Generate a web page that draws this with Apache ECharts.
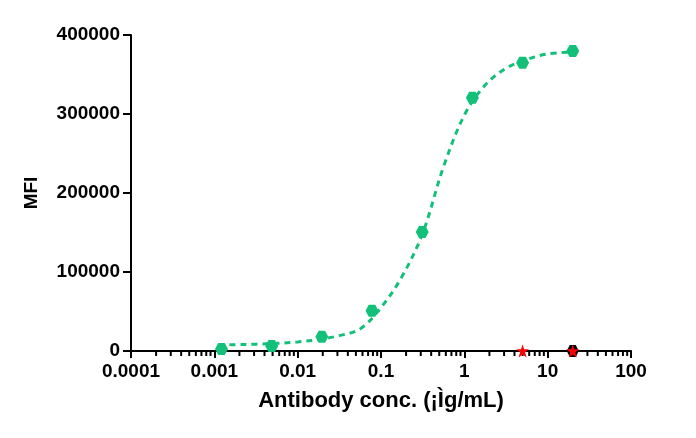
<!DOCTYPE html>
<html>
<head>
<meta charset="utf-8">
<script src="https://cdn.jsdelivr.net/npm/echarts@6/dist/echarts.min.js"></script>
<style>html,body{margin:0;padding:0;background:#fff;}#c{width:696px;height:438px;}</style>
</head>
<body>
<div id="c"></div>
<script>
// Data
var concentrations = [0.00122, 0.00488, 0.0195, 0.078, 0.3125, 1.25, 5, 20];
var mfiValues = [2500, 6300, 18000, 51000, 150600, 320500, 364800, 379700];
// fitted curve (x in ug/mL, y MFI)
var curveX = [0.00112, 0.00178, 0.00316, 0.00562, 0.01, 0.0178, 0.0316, 0.0562, 0.1, 0.178, 0.316, 0.562, 1, 1.78, 3.16, 5.62, 10, 20];
var curveY = [7500, 8000, 8700, 9700, 11500, 14500, 19500, 28000, 55000, 94000, 149000, 233000, 298500, 336700, 357800, 369000, 376000, 378500];
// controls at zero
var controlStarX = [5, 20];
var controlStarY = [0, 0];
var controlCircleX = [20];
var controlCircleY = [0];
var xTickLabels = ['0.0001', '0.001', '0.01', '0.1', '1', '10', '100'];
var yTickLabels = ['0', '100000', '200000', '300000', '400000'];

var green = '#13c07a';
var hex = 'path://M0,5 L3,0 L9,0 L12,5 L9,10 L3,10 Z';
var font = 'Liberation Sans';

function zip(a, b) { return a.map(function (v, i) { return [v, b[i]]; }); }

var minorTicks = [];
for (var e = -4; e < 2; e++) {
  for (var k = 2; k <= 9; k++) minorTicks.push([k * Math.pow(10, e), 0]);
}

var chart = echarts.init(document.getElementById('c'), null, {renderer: 'canvas'});
chart.setOption({
  animation: false,
  backgroundColor: '#fff',
  grid: {left: 131, right: 65, top: 35, bottom: 87, containLabel: false},
  xAxis: {
    type: 'log', logBase: 10, min: 0.0001, max: 100,
    name: 'Antibody conc. (¡Ìg/mL)', nameLocation: 'middle', nameGap: 39,
    nameTextStyle: {fontFamily: font, fontWeight: 'bold', fontSize: 22, color: '#000'},
    axisLine: {lineStyle: {color: '#000', width: 2}},
    axisTick: {show: true, length: 7, lineStyle: {color: '#000', width: 2}},
    axisLabel: {
      fontFamily: font, fontWeight: 'bold', fontSize: 19, color: '#000', margin: 11,
      formatter: function (v) { var i = Math.round(Math.log10(v)) + 4; return xTickLabels[i] || ''; }
    },
    splitLine: {show: false}
  },
  yAxis: {
    type: 'value', min: 0, max: 400000, interval: 100000,
    name: 'MFI', nameLocation: 'middle', nameGap: 90, nameRotate: 90,
    nameTextStyle: {fontFamily: font, fontWeight: 'bold', fontSize: 19, color: '#000'},
    axisLine: {show: true, lineStyle: {color: '#000', width: 2}},
    axisTick: {show: true, length: 8, lineStyle: {color: '#000', width: 2}},
    axisLabel: {
      fontFamily: font, fontWeight: 'bold', fontSize: 19, color: '#000', margin: 11,
      formatter: function (v) { return yTickLabels[Math.round(v / 100000)]; }
    },
    splitLine: {show: false}
  },
  series: [
    {
      type: 'scatter', data: minorTicks, symbol: 'rect', symbolSize: [2, 4],
      symbolOffset: [0, 3], itemStyle: {color: '#000', opacity: 1}, clip: false, silent: true, z: 1
    },
    {
      type: 'line', data: zip(curveX, curveY), smooth: 0.35, showSymbol: false,
      lineStyle: {color: green, width: 3, type: [6, 5]}, z: 2
    },
    {
      type: 'scatter', data: zip(concentrations, mfiValues), symbol: hex, symbolSize: [13, 12],
      itemStyle: {color: green, opacity: 1}, z: 3
    },
    {
      type: 'scatter', data: zip(controlCircleX, controlCircleY), symbol: hex, symbolSize: [12, 12],
      itemStyle: {color: '#000', opacity: 1}, clip: false, z: 4
    },
    {
      type: 'scatter', data: zip(controlStarX, controlStarY), symbol: 'path://M50,0 L61.8,35.4 L100,35.4 L69.1,57.3 L80.9,95.1 L50,72.4 L19.1,95.1 L30.9,57.3 L0,35.4 L38.2,35.4 Z',
      symbolSize: [13, 13], itemStyle: {color: '#ff0000', opacity: 1}, clip: false, z: 5
    }
  ]
});
</script>
</body>
</html>
